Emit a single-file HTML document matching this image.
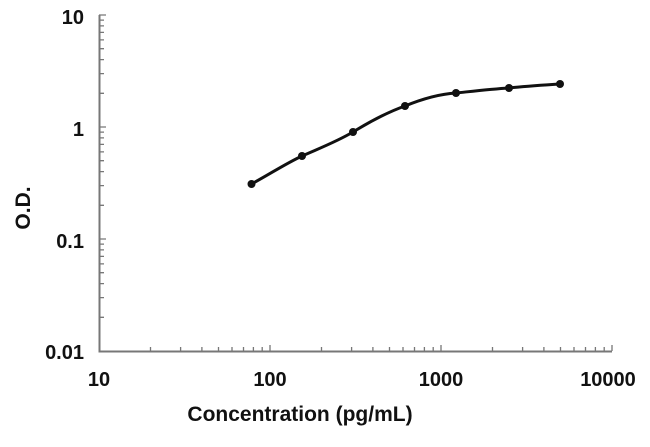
<!DOCTYPE html>
<html><head><meta charset="utf-8"><style>body{margin:0;background:#fff}svg{display:block}</style></head><body>
<svg width="650" height="447" xmlns="http://www.w3.org/2000/svg" font-family="Liberation Sans, Arial, sans-serif" font-weight="bold">
<g stroke="#777" stroke-width="2" fill="none">
<line x1="99.5" y1="15" x2="99.5" y2="352"/>
<line x1="98.5" y1="351.5" x2="612" y2="351.5"/>
</g>
<path stroke="#777" stroke-width="1.3" fill="none" d="
M150.5,351v-4M180.6,351v-4M201.9,351v-4M218.5,351v-4M232,351v-4M243.5,351v-4M253.4,351v-4M262.2,351v-4M270,351v-6
M321.5,351v-4M351.6,351v-4M372.9,351v-4M389.5,351v-4M403,351v-4M414.5,351v-4M424.4,351v-4M433.2,351v-4M441,351v-6
M492.5,351v-4M522.6,351v-4M543.9,351v-4M560.5,351v-4M574,351v-4M585.5,351v-4M595.4,351v-4M604.2,351v-4M612,351v-6
M99,317.3h5M99,297.6h5M99,283.6h5M99,272.7h5M99,263.9h5M99,256.4h5M99,249.9h5M99,244.1h5M99,239h7
M99,205.3h5M99,185.6h5M99,171.6h5M99,160.7h5M99,151.9h5M99,144.4h5M99,137.9h5M99,132.1h5M99,127h7
M99,93.3h5M99,73.6h5M99,59.6h5M99,48.7h5M99,39.9h5M99,32.4h5M99,25.9h5M99,20.1h5M99,15h7"/>
<g font-size="20" fill="#111" text-anchor="end">
<text x="84" y="24">10</text><text x="84" y="136">1</text><text x="84" y="248">0.1</text><text x="84" y="359">0.01</text>
</g>
<g font-size="20" fill="#111" text-anchor="middle">
<text x="99" y="386">10</text><text x="270" y="386">100</text><text x="441" y="386">1000</text><text x="608" y="386">10000</text>
<text x="300" y="421" font-size="21">Concentration (pg/mL)</text>
</g>
<text font-size="21" fill="#111" text-anchor="middle" transform="translate(30,208) rotate(-90)">O.D.</text>
<path d="M251.5,184 C270,174 285,164 302,156 C320,148 336,142 353,132 C371,121 388,112 405,106 C422,99 440,94 456,93 C475,91 492,89 509,88 C528,86 545,85 560,84" stroke="#111" stroke-width="3" fill="none"/>
<g fill="#111">
<circle cx="251.5" cy="184" r="4"/><circle cx="302" cy="156" r="4"/><circle cx="353" cy="132" r="4"/><circle cx="405" cy="106" r="4"/><circle cx="456" cy="93" r="4"/><circle cx="509" cy="88" r="4"/><circle cx="560" cy="84" r="4"/>
</g>
</svg>
</body></html>
